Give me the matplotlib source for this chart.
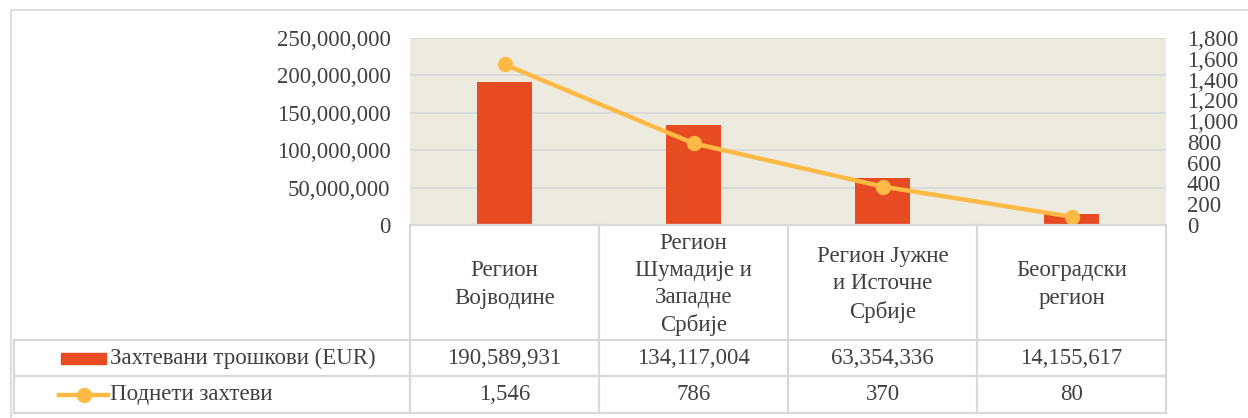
import matplotlib.pyplot as plt
from matplotlib.ticker import FuncFormatter
from matplotlib.lines import Line2D
from matplotlib.patches import Rectangle

plt.rcParams['font.family'] = ['Liberation Serif', 'DejaVu Serif']

# data
regions = ['Регион\nВојводине', 'Регион\nШумадије и\nЗападне\nСрбије',
           'Регион Јужне\nи Источне\nСрбије', 'Београдски\nрегион']
costs = [190589931, 134117004, 63354336, 14155617]
requests = [1546, 786, 370, 80]
cost_label = 'Захтевани трошкови (EUR)'
req_label = 'Поднети захтеви'

bar_color = '#E64B22'
line_color = '#FFBA45'
text_color = '#404040'
grid_color = '#D9D9D9'
fs = 16.5

W, H = 1248, 418
fig = plt.figure(figsize=(W / 100, H / 100), dpi=100)

# outer frame
fig.patches.append(Rectangle((11 / W, -0.01), 1.0, 1 - 10 / H + 0.01, transform=fig.transFigure,
                             fill=False, edgecolor=grid_color, lw=1.2))

# chart area
px_l, px_r, px_t, px_b = 410, 1166, 38, 225
ax = fig.add_axes([px_l / W, 1 - px_b / H, (px_r - px_l) / W, (px_b - px_t) / H])
ax.set_facecolor('#EDEAE0')
x = range(len(regions))
ax.bar(x, costs, width=0.29, color=bar_color, zorder=2)
ax.set_xlim(-0.5, len(regions) - 0.5)
ax.set_ylim(0, 250000000)
ax.set_yticks(range(0, 250000001, 50000000))
ax.yaxis.set_major_formatter(FuncFormatter(lambda v, p: f'{int(v):,}'))
ax.yaxis.grid(True, color=grid_color, lw=1.3, zorder=1)
ax.set_axisbelow(True)
ax.tick_params(axis='y', length=0, pad=14, labelsize=fs, labelcolor=text_color)
ax.set_xticks([])
for s in ax.spines.values():
    s.set_visible(False)

ax2 = ax.twinx()
ax2.plot(x, requests, color=line_color, lw=3.2, marker='o', ms=10, zorder=3)
ax2.set_ylim(0, 1800)
ax2.set_yticks(range(0, 1801, 200))
ax2.yaxis.set_major_formatter(FuncFormatter(lambda v, p: f'{int(v):,}'))
ax2.tick_params(axis='y', length=0, pad=15, labelsize=fs, labelcolor=text_color)
for s in ax2.spines.values():
    s.set_visible(False)

# data table below, in pixel-like coordinates sharing the category scale
col_w = (px_r - px_l) / len(regions)
leg_left = 14
tx_left = -0.5 - (px_l - leg_left) / col_w
tax = fig.add_axes([leg_left / W, 1 - 413 / H, (px_r - leg_left) / W, (413 - px_b) / H])
tax.set_xlim(tx_left, len(regions) - 0.5)
tax.set_ylim(413, px_b)
tax.axis('off')

row_hdr, row1, row2 = (px_b, 340), (340, 376), (376, 413)
lk = dict(color=grid_color, lw=1.6, clip_on=False)
tax.plot([-0.5, len(regions) - 0.5], [px_b, px_b], **lk)
for yy in (row1[0], row2[0], row2[1]):
    tax.plot([tx_left, len(regions) - 0.5], [yy, yy], **lk)
tax.plot([tx_left, tx_left], [row1[0], row2[1]], **lk)
for i in range(len(regions) + 1):
    tax.plot([i - 0.5, i - 0.5], [px_b, row2[1]], **lk)

tk = dict(ha='center', va='center', fontsize=fs, color=text_color)
for i, name in enumerate(regions):
    tax.text(i, sum(row_hdr) / 2 + 2, name, linespacing=1.38, **tk)
    tax.text(i, sum(row1) / 2, f'{costs[i]:,}', **tk)
    tax.text(i, sum(row2) / 2, f'{requests[i]:,}', **tk)

# legend keys inside the table
kx0 = tx_left + (61 - leg_left) / col_w
kx1 = tx_left + (106 - leg_left) / col_w
tax.add_patch(Rectangle((kx0, 353), kx1 - kx0, 11, color=bar_color, clip_on=False))
tax.add_line(Line2D([kx0 - 0.01, kx1 + 0.01], [sum(row2) / 2] * 2, color=line_color, lw=3.2,
                    clip_on=False))
tax.plot([(kx0 + kx1) / 2], [sum(row2) / 2], 'o', color=line_color, ms=10, clip_on=False)
lx = tx_left + (110 - leg_left) / col_w
tax.text(lx, sum(row1) / 2, cost_label, ha='left', va='center', fontsize=fs, color=text_color)
tax.text(lx, sum(row2) / 2, req_label, ha='left', va='center', fontsize=fs, color=text_color)

fig.savefig('out.png', dpi=100)
